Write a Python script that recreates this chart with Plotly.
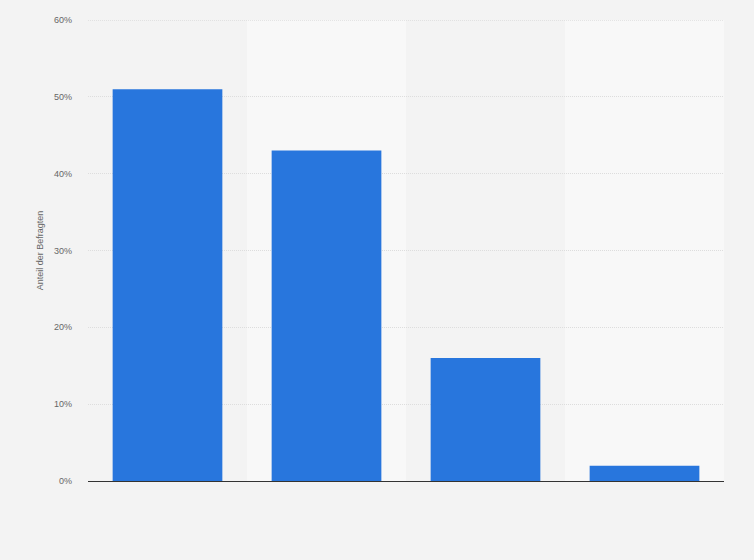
import plotly.graph_objects as go

# Survey share per answer (no category labels shown in the chart)
categories = ["Antwort 1", "Antwort 2", "Antwort 3", "Antwort 4"]
values = [51, 43, 16, 2]
y_ticks = [0, 10, 20, 30, 40, 50, 60]
y_tick_labels = ["0%", "10%", "20%", "30%", "40%", "50%", "60%"]

fig = go.Figure()

fig.add_trace(go.Bar(
    x=categories,
    y=values,
    marker=dict(color="#2876dd", line=dict(width=0)),
    width=0.69,
    hovertemplate="%{y}%<extra></extra>",
))

# Alternating lighter column bands behind every second category
for i in range(1, len(categories), 2):
    fig.add_shape(
        type="rect", xref="x", yref="paper",
        x0=i - 0.5, x1=i + 0.5, y0=0, y1=1,
        fillcolor="#f8f8f8", line=dict(width=0), layer="below",
    )

# Top gridline (plotly skips the one sitting on the axis edge)
fig.add_hline(y=y_ticks[-1], line=dict(color="#d0d0d0", width=1, dash="1px,1px"), layer="below")

fig.update_layout(
    width=754,
    height=560,
    paper_bgcolor="#f3f3f3",
    plot_bgcolor="#f3f3f3",
    margin=dict(l=88, r=30, t=20, b=79),
    font=dict(family="Liberation Sans, Arial, sans-serif", size=9, color="#666666"),
    showlegend=False,
    bargap=0.31,
)

fig.update_xaxes(
    showticklabels=False,
    showgrid=False,
    ticks="",
    range=[-0.5, len(categories) - 0.5],
)

fig.update_yaxes(
    range=[0, 60],
    tickvals=y_ticks,
    ticktext=y_tick_labels,
    showgrid=True,
    gridcolor="#dddddd",
    griddash="1px,1px",
    gridwidth=1,
    zeroline=True,
    zerolinecolor="#333333",
    zerolinewidth=1.2,
    ticks="",
    ticklabelstandoff=15,
    title=dict(text="Anteil der Befragten", font=dict(size=9, color="#666666"), standoff=8),
)

# Remove the default page margin so the chart sits at the window's corner
fig.write_html(
    "out.html",
    config={"displayModeBar": False},
    post_script="document.body.style.margin='0';",
)
